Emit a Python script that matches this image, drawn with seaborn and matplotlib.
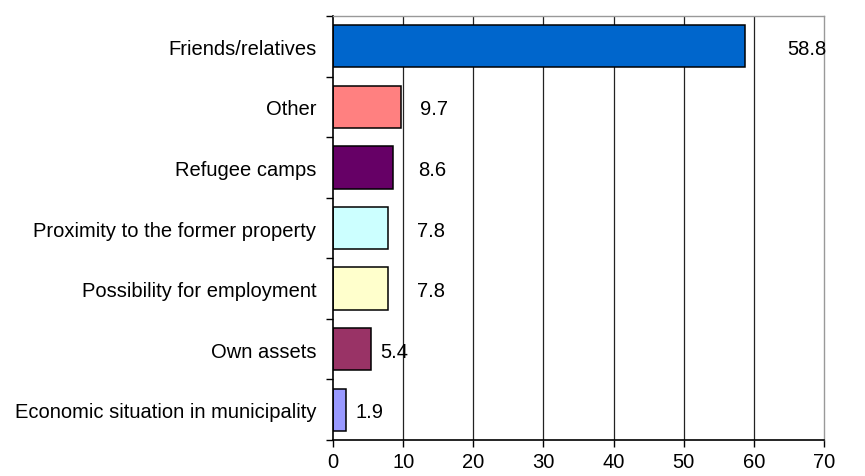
import matplotlib
matplotlib.use("Agg")
import matplotlib.pyplot as plt
import seaborn as sns
import pandas as pd
from matplotlib.ticker import FixedLocator

reasons = [
    "Friends/relatives",
    "Other",
    "Refugee camps",
    "Proximity to the former property",
    "Possibility for employment",
    "Own assets",
    "Economic situation in municipality",
]
shares = [58.8, 9.7, 8.6, 7.8, 7.8, 5.4, 1.9]
bar_colors = ["#0066CC", "#FF8080", "#660066", "#CCFFFF", "#FFFFCC", "#993366", "#9999FF"]
x_ticks = [0, 10, 20, 30, 40, 50, 60, 70]
# horizontal gap (pixels) between bar end and its value label
label_gap = [42, 19, 25, 29, 29, 9, 9]

df = pd.DataFrame({"reason": reasons, "share": shares})

sns.set_theme(style="white")
plt.rcParams["font.family"] = ["Liberation Sans", "DejaVu Sans"]
FS = 14.5

fig = plt.figure(figsize=(8.65, 4.77), dpi=100)
ax = fig.add_axes([333 / 865, 1 - 441 / 477, (824 - 333) / 865, (441 - 17) / 477])

sns.barplot(
    data=df, x="share", y="reason", hue="reason", palette=bar_colors,
    orient="h", width=0.7, edgecolor="black", linewidth=1.1,
    legend=False, ax=ax, saturation=1,
)

ax.set_xlim(0, 70)
ax.set_ylim(len(reasons) - 0.5, -0.5)
ax.set_xticks(x_ticks)
ax.set_xticklabels([str(t) for t in x_ticks], fontsize=FS, color="black")
ax.set_yticklabels(reasons, fontsize=FS, color="black")
ax.set_xlabel("")
ax.set_ylabel("")

# vertical gridlines behind the bars
ax.set_axisbelow(True)
for t in x_ticks[1:-1]:
    ax.axvline(t, color="#222222", linewidth=0.9, zorder=0)

# category separators as small ticks on the value axis
ax.yaxis.set_minor_locator(FixedLocator([i - 0.5 for i in range(len(reasons) + 1)]))
ax.tick_params(axis="y", which="major", length=0, pad=12)
ax.tick_params(axis="y", which="minor", left=True, length=5, width=1, color="black")
ax.tick_params(axis="x", which="major", bottom=True, length=5, width=1, color="black", pad=4)

for side in ["left", "bottom"]:
    ax.spines[side].set_color("black")
    ax.spines[side].set_linewidth(1.2)
for side in ["top", "right"]:
    ax.spines[side].set_visible(True)
    ax.spines[side].set_color("#999999")
    ax.spines[side].set_linewidth(1.0)

for i, (v, gap) in enumerate(zip(shares, label_gap)):
    ax.annotate(f"{v:.1f}", xy=(v, i), xytext=(gap, -2), textcoords="offset pixels",
                ha="left", va="center", fontsize=FS, color="black")

fig.savefig("out.png", dpi=100)
